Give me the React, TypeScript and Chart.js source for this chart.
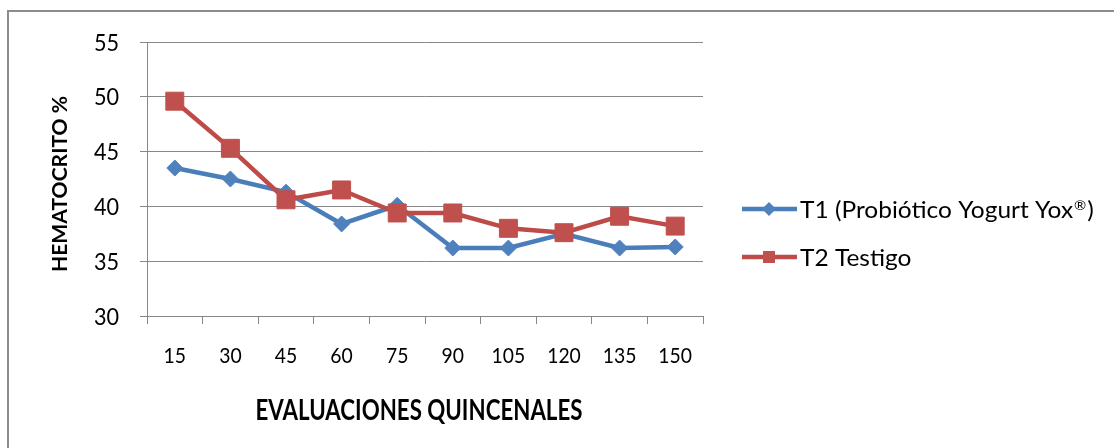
import React, { useEffect, useRef } from "react";
import { Chart, registerables } from "chart.js";

Chart.register(...registerables);

// Días de evaluación (quincenales)
const dias = ["15", "30", "45", "60", "75", "90", "105", "120", "135", "150"];
// Hematocrito (%) por tratamiento
const t1Probiotico = [43.5, 42.5, 41.3, 38.4, 40.1, 36.2, 36.2, 37.5, 36.2, 36.3];
const t2Testigo = [49.6, 45.3, 40.6, 41.5, 39.4, 39.4, 38.0, 37.6, 39.1, 38.2];
// Escala del eje Y
const yTicks = [30, 35, 40, 45, 50, 55];
const seriesNames = ["T1 (Probiótico Yogurt Yox®)", "T2 Testigo"];
const xTitle = "EVALUACIONES QUINCENALES";
const yTitle = "HEMATOCRITO %";

const FONT = "Lato, 'Open Sans', sans-serif";
const AXIS_GRAY = "#878787";
const BLUE_LINE = "#4A7EBB";
const BLUE_MARK = "#4F81BD";
const RED_LINE = "#BE4B48";
const RED_MARK = "#C0504D";

type Align = "left" | "right" | "center";

// Draws text with a horizontal compression factor so Lato approximates narrower Office fonts
function drawText(
  ctx: CanvasRenderingContext2D,
  text: string,
  x: number,
  y: number,
  size: number,
  weight: string,
  sx: number,
  align: Align
) {
  ctx.save();
  ctx.font = `${weight} ${size}px ${FONT}`;
  ctx.textBaseline = "alphabetic";
  ctx.textAlign = "left";
  ctx.fillStyle = "#000";
  const w = ctx.measureText(text).width * sx;
  const x0 = align === "right" ? x - w : align === "center" ? x - w / 2 : x;
  ctx.translate(x0, y);
  ctx.scale(sx, 1);
  ctx.fillText(text, 0, 0);
  ctx.restore();
  return w;
}

function measure(ctx: CanvasRenderingContext2D, text: string, size: number, weight: string) {
  ctx.save();
  ctx.font = `${weight} ${size}px ${FONT}`;
  const m = ctx.measureText(text).width;
  ctx.restore();
  return m;
}

// Legend label: a registered-trademark sign is set as a small superscript
function legendRuns(text: string) {
  const parts = text.split("®");
  const runs: { t: string; sup: boolean }[] = [];
  parts.forEach((p, i) => {
    if (p) runs.push({ t: p, sup: false });
    if (i < parts.length - 1) runs.push({ t: "®", sup: true });
  });
  return runs;
}

function drawLegendLabel(ctx: CanvasRenderingContext2D, text: string, x: number, y: number, size: number, sx: number) {
  let cx = x;
  legendRuns(text).forEach((r) => {
    if (r.sup) {
      cx += drawText(ctx, r.t, cx + 1, y - 8, size * 0.6, "normal", sx, "left") + 2;
    } else {
      cx += drawText(ctx, r.t, cx, y, size, "normal", sx, "left");
    }
  });
}

function legendWidth(ctx: CanvasRenderingContext2D, text: string, size: number) {
  return legendRuns(text).reduce(
    (acc, r) => acc + (r.sup ? measure(ctx, r.t, size * 0.6, "normal") + 3 : measure(ctx, r.t, size, "normal")),
    0
  );
}

const textPlugin = {
  id: "officeText",
  afterDraw(chart: any) {
    const ctx: CanvasRenderingContext2D = chart.ctx;
    const xs = chart.scales.x;
    const ys = chart.scales.y;
    const area = chart.chartArea;

    // Y tick labels
    ys.ticks.forEach((t: any, i: number) => {
      const py = ys.getPixelForTick(i);
      drawText(ctx, String(t.label), ys.right - 28, py + 8.5, 23, "normal", 0.94, "right");
    });

    // X tick labels
    xs.ticks.forEach((t: any, i: number) => {
      const px = xs.getPixelForTick(i);
      drawText(ctx, String(t.label), px, xs.top + 47, 22, "normal", 0.88, "center");
    });

    // X axis title
    const sxTitle = 327 / measure(ctx, xTitle, 28, "bold");
    drawText(ctx, xTitle, (area.left + area.right) / 2 - 6, xs.top + 104, 28, "bold", sxTitle, "center");

    // Y axis title (rotated)
    ctx.save();
    ctx.translate(67, (area.top + area.bottom) / 2 + 5);
    ctx.rotate(-Math.PI / 2);
    const syTitle = 176 / measure(ctx, yTitle, 21, "bold");
    drawText(ctx, yTitle, 0, 0, 21, "bold", syTitle, "center");
    ctx.restore();

    // Legend
    const legendX = area.right + 39;
    const rows = [
      { y: area.top + 167, line: BLUE_LINE, mark: BLUE_MARK, shape: "diamond" },
      { y: area.top + 215, line: RED_LINE, mark: RED_MARK, shape: "square" },
    ];
    const sxLegend = 295 / legendWidth(ctx, seriesNames[0], 23.5);
    rows.forEach((r, i) => {
      ctx.save();
      ctx.strokeStyle = r.line;
      ctx.lineWidth = 4.5;
      ctx.beginPath();
      ctx.moveTo(legendX, r.y);
      ctx.lineTo(legendX + 55, r.y);
      ctx.stroke();
      ctx.fillStyle = r.mark;
      const cx = legendX + 27;
      if (r.shape === "diamond") {
        ctx.beginPath();
        ctx.moveTo(cx, r.y - 7);
        ctx.lineTo(cx + 7, r.y);
        ctx.lineTo(cx, r.y + 7);
        ctx.lineTo(cx - 7, r.y);
        ctx.closePath();
        ctx.fill();
      } else {
        ctx.fillRect(cx - 6, r.y - 6, 12, 12);
      }
      ctx.restore();
      drawLegendLabel(ctx, seriesNames[i], legendX + 58, r.y + 8.5, 23.5, sxLegend);
    });
  },
};

export default function App() {
  const canvasRef = useRef<HTMLCanvasElement | null>(null);

  useEffect(() => {
    const canvas = canvasRef.current;
    if (!canvas) return;
    const chart = new Chart(canvas, {
      type: "line",
      data: {
        labels: dias,
        datasets: [
          {
            label: seriesNames[0],
            data: t1Probiotico,
            borderColor: BLUE_LINE,
            backgroundColor: BLUE_MARK,
            borderWidth: 4.5,
            pointStyle: "rectRot",
            pointRadius: 8,
            pointBorderWidth: 1,
            pointBorderColor: BLUE_MARK,
            pointBackgroundColor: BLUE_MARK,
            tension: 0,
            order: 2,
          },
          {
            label: seriesNames[1],
            data: t2Testigo,
            borderColor: RED_LINE,
            backgroundColor: RED_MARK,
            borderWidth: 4.5,
            pointStyle: "rect",
            pointRadius: 12.7,
            pointBorderWidth: 1,
            pointBorderColor: RED_MARK,
            pointBackgroundColor: RED_MARK,
            tension: 0,
            order: 1,
          },
        ],
      },
      options: {
        responsive: false,
        animation: false,
        devicePixelRatio: 1,
        layout: { padding: { left: 0, top: 42, right: 411, bottom: 0 } },
        plugins: {
          legend: { display: false },
          tooltip: { enabled: false },
        },
        scales: {
          x: {
            type: "category",
            offset: true,
            afterFit: (s: any) => {
              s.height = 132;
            },
            ticks: { display: false },
            grid: {
              offset: true,
              drawOnChartArea: false,
              drawTicks: true,
              tickLength: 8,
              color: AXIS_GRAY,
              lineWidth: 1,
            },
            border: { display: true, color: AXIS_GRAY, width: 1 },
          },
          y: {
            min: yTicks[0],
            max: yTicks[yTicks.length - 1],
            afterFit: (s: any) => {
              s.width = 147;
            },
            ticks: { display: false, stepSize: yTicks[1] - yTicks[0] },
            grid: {
              drawTicks: true,
              tickLength: 7,
              color: AXIS_GRAY,
              lineWidth: 1,
            },
            border: { display: true, color: AXIS_GRAY, width: 1 },
          },
        },
      },
      plugins: [textPlugin],
    });
    return () => chart.destroy();
  }, []);

  return (
    <div
      style={{
        position: "fixed",
        left: 0,
        top: 0,
        width: 1114,
        height: 448,
        background: "#fff",
        overflow: "hidden",
      }}
    >
      <div
        style={{
          position: "absolute",
          left: 7,
          top: 10,
          width: 1200,
          height: 600,
          border: "2px solid #8c8c8c",
        }}
      />
      <canvas
        ref={canvasRef}
        width={1114}
        height={448}
        style={{ position: "absolute", left: 0, top: 0, width: 1114, height: 448 }}
      />
    </div>
  );
}
